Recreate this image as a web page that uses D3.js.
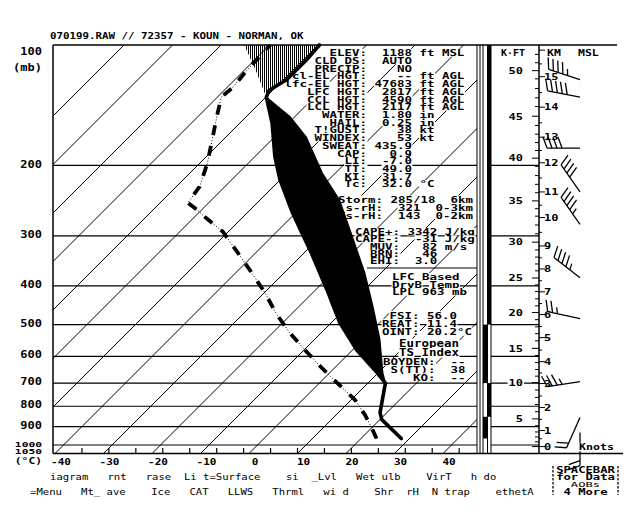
<!DOCTYPE html>
<html><head><meta charset="utf-8">
<script src="https://cdn.jsdelivr.net/npm/d3@7"></script>
<style>
body{margin:0;background:#fff}
svg{display:block;background:#fff}
text{font-family:"DejaVu Sans Mono","Liberation Mono",monospace;fill:#000;white-space:pre}
</style>
</head><body>
<svg id="c" width="627" height="525"></svg>
<script>
// ---------------- DATA ----------------
const titleText = "070199.RAW // 72357 - KOUN - NORMAN, OK";
const isotherms = [-110,-100,-90,-80,-70,-60,-50,-40,-30,-20,-10,0,10,20,30,40];
const pressureLines = [200,300,400,500,600,700,800,900,1000];
const pressureLabels = [100,200,300,400,500,600,700,800,900];
const lowPressureLabels = [1000,1050];
const tempLabels = [-40,-30,-20,-10,0,10,20,30,40];
const fahrenheitTicks = [-30,-20,-10,0,10,20,30,40,50,60,70,80,90,100,110];

// environmental temperature (°C) vs pressure (mb)
const envP = [963,864,830,757,700,659,578,495,409,331,263,217,190,157,135,130,122,109,100];
const envT = [28.3,20.4,18.6,15.9,13.6,9.7,0.8,-8.2,-17.7,-28.5,-40.6,-50.1,-55.9,-63.3,-69.9,-70.7,-69.3,-69.3,-69.7];
// lifted parcel
const parcelP = [700,659,545,451,371,302,244,209,170,151,135,115.5,100];
const parcelT = [13.6,10.9,3.5,-4.7,-13.4,-23.3,-33.6,-42.7,-53.4,-61.0,-69.9,-77.7,-85.2];
const elP = 135;
// dewpoint
const dewP = [963,889,840,770,700,641,578,524,472,416,371,335,293,269,258,248,226,197,173,151,135,128,117,103,100];
const dewT = [23.2,19.0,15.9,10.7,3.7,-2.7,-9.9,-16.5,-22.9,-29.9,-36.7,-42.9,-51.1,-57.9,-61.0,-64.3,-65.2,-68.5,-72.2,-76.1,-79.2,-78.8,-79.4,-79.8,-79.8];

// height scale (km MSL -> pressure)
const kmLevels = [0,1,2,3,4,5,6,7,8,9,10,11,12,13,14,15,16];
const kmPressure = [1009,920,806,702,619,539,472,414,363,318,270,233,197,170,143,120,103];
const kmLabels = [0,1,2,3,4,5,6,7,8,9,10,11,12,13,14,15];
const kftLabels = [5,10,15,20,25,30,35,40,45,50];

// layer indicator column segments
const layerTop = [100,500,700,850];
const layerBot = [500,700,850,963];
const layerCol = ["B","A","B","A"];

// winds
const windP = [122,135,181,233,281,382,483,694,854,931];
const windDir = [288,281,270,325,325,308,282,261,204,180];
const windSpd = [45,50,40,40,45,45,25,35,20,20];

// text panel
const statLabels = ["ELEV:","CLD DS:","PRECIP:","cl-EL HGT:","lfc-EL HGT:","LFC HGT:","CCL HGT:","LCL HGT:","WATER:","HAIL:","T!GUST:","WINDEX:","SWEAT:","CAP:","LI:","TT:","KI:","Tc:"];
const statValues = ["1188","AUTO","NO","--","47683","2817","4590","2117","1.80","0.25","38","53","435.9","0.9","-7.0","49.0","31.7","32.0"];
const statUnits = ["ft","","","ft","ft","ft","ft","ft","in","in","kt","kt","","","","","","°C"];
const statUnits2 = ["MSL","","","AGL","AGL","AGL","AGL","AGL","","","","","","","","","",""];
const stormLines = ["Storm: 285/18  6km"," s-rH:  321  0-3km"," s-rH:  143  0-2km"];
const capeLines = ["CAPE+: 3342 J/kg","CAPE-:  -31 J/kg","  MUV:   82 m/s","  BRN:   46","  EHI:  3.0"];
const lfcLines = ["LFC Based","DryB Temp","LPL 963 mb"];
const fsiLines = [" FSI: 56.0","REAT: 11.4","OINT: 20.2°C"];
const euroLines = ["European","TS Index"];
const boydenLines = ["BOYDEN:  --"," S(TT):  38","    KO:  --"];
const menuLine1 = "iagram   rnt   rase  Li t=Surface    si  _Lvl   Wet ulb    VirT   h do";
const menuLine2 = "=Menu   Mt_ ave    Ice   CAT   LLWS   Thrml   wi d    Shr  rH  N trap    ethetA";
const boxLines = ["SPACEBAR","for Data","AOBs","4 More"];

// ---------------- LAYOUT ----------------
const svg = d3.select("#c");
const TOP=45, BOT=453.5, LEFT=53, ISO_R=477, AXX=539;
const y = d3.scaleLog().domain([100,1050]).range([TOP,BOT]);
const xT = d3.scaleLinear().domain([-40,40]).range([55,443]);
const sx = (T,p) => xT(T) + (BOT - y(p));
const hP = d3.scaleLinear().domain(kmLevels).range(kmPressure);
const MONO = 0.602;

function txt(parent, x, yc, str, o={}) {
  const size=o.size||12, sy=o.sy||0.8, anchor=o.anchor||"start";
  const g=parent.append("g").attr("transform",`translate(${x},${yc}) scale(1,${sy})`);
  const t=g.append("text").attr("x",0).attr("y",size*0.729/2)
    .attr("text-anchor",anchor).attr("font-size",size)
    .attr("font-weight",o.weight||"bold").text(str);
  if(o.bg){
    const b=t.node().getBBox();
    g.insert("rect","text").attr("x",b.x-1).attr("y",-size*0.729/2-1.5)
      .attr("width",b.width+2).attr("height",size*0.729+3).attr("fill","#fff");
  }
  return g;
}
// grid text block with white cells behind non-space runs
function block(parent, lines, x0, y0, dy, pitch, sy) {
  const size = pitch/MONO;
  lines.forEach((s,i)=>{
    const yc=y0+i*dy;
    const re=/\S+/g; let m;
    while((m=re.exec(s))!==null){
      parent.append("rect").attr("x",x0+m.index*pitch-0.5).attr("y",yc-dy/2)
        .attr("width",m[0].length*pitch+1).attr("height",dy).attr("fill","#fff");
    }
    txt(parent,x0,yc,s,{size:size,sy:sy});
  });
}

// ---------------- GRID ----------------
const defs = svg.append("defs");
defs.append("clipPath").attr("id","plotclip").append("rect")
  .attr("x",LEFT).attr("y",TOP).attr("width",ISO_R-LEFT).attr("height",BOT-TOP);
const hatch = defs.append("pattern").attr("id","hatch").attr("patternUnits","userSpaceOnUse")
  .attr("width",2).attr("height",4);
hatch.append("rect").attr("x",0).attr("y",0).attr("width",1).attr("height",4).attr("fill","#000");

const grid = svg.append("g");
const line = d3.line().x(d=>sx(d[1],d[0])).y(d=>y(d[0]));
grid.append("g").attr("clip-path","url(#plotclip)").selectAll("path").data(isotherms).join("path")
  .attr("d",T=>line([[1050,T],[100,T]])).attr("stroke","#000").attr("stroke-width",1).attr("fill","none");

pressureLines.forEach(p=>{
  grid.append("line").attr("x1",LEFT).attr("x2",ISO_R).attr("y1",y(p)).attr("y2",y(p)).attr("stroke","#000").attr("stroke-width",1.2);
  grid.append("line").attr("x1",491).attr("x2",AXX).attr("y1",y(p)).attr("y2",y(p)).attr("stroke","#000").attr("stroke-width",1.2);
});
// borders
grid.append("line").attr("x1",LEFT).attr("x2",617).attr("y1",TOP).attr("y2",TOP).attr("stroke","#000").attr("stroke-width",1.5);
grid.append("line").attr("x1",LEFT).attr("x2",623).attr("y1",BOT).attr("y2",BOT).attr("stroke","#000").attr("stroke-width",1.5);
grid.append("line").attr("x1",LEFT).attr("x2",LEFT).attr("y1",TOP).attr("y2",BOT).attr("stroke","#000").attr("stroke-width",1.5);
[477,480,483,487.5,491].forEach(x=>{
  grid.append("line").attr("x1",x).attr("x2",x).attr("y1",TOP).attr("y2",BOT).attr("stroke","#000").attr("stroke-width",1);
});
layerTop.forEach((pt,i)=>{
  const x0 = layerCol[i]==="A" ? 483 : 487.5;
  grid.append("rect").attr("x",x0).attr("width",layerCol[i]==="A"?4.5:3.5)
    .attr("y",y(pt)).attr("height",y(layerBot[i])-y(pt)).attr("fill","#000");
});
// °F ticks on bottom axis
fahrenheitTicks.forEach(F=>{
  const x = xT((F-32)*5/9);
  grid.append("line").attr("x1",x).attr("x2",x).attr("y1",BOT-5.5).attr("y2",BOT).attr("stroke","#000").attr("stroke-width",1.2);
});

// ---------------- TEXT PANEL ----------------
const panel = svg.append("g");
const P=7.5;
const statLines = statLabels.map((l,i)=>{
  let s = l.padStart(11," ") + " " + statValues[i].padStart(5," ");
  if(statUnits[i]) s += " " + statUnits[i];
  if(statUnits2[i]) s += " " + statUnits2[i];
  return s;
});
block(panel, statLines, 284.5, 52.7, 7.72, P, 0.77);
block(panel, stormLines, 338, 199.5, 7.8, P, 0.77);
block(panel, capeLines, 355, 231.8, 7.2, P, 0.74);
panel.append("line").attr("x1",367).attr("x2",477).attr("y1",268).attr("y2",268).attr("stroke","#000").attr("stroke-width",1.2);
block(panel, lfcLines, 392, 276.7, 7.6, P, 0.77);
block(panel, fsiLines, 382, 315, 8.3, P, 0.77);
block(panel, euroLines, 399, 343.3, 9.5, P, 0.8);
block(panel, boydenLines, 383, 361.7, 7.8, P, 0.77);

// ---------------- SOUNDING ----------------
const snd = svg.append("g");
const pt = (P,T)=>[sx(T,P),y(P)];
// hatched negative area above EL
const envAbove = envP.map((p,i)=>[p,envT[i]]).filter(d=>d[0]<=elP);
const parAbove = parcelP.map((p,i)=>[p,parcelT[i]]).filter(d=>d[0]<=elP);
const hatchPoly = parAbove.map(d=>pt(d[0],d[1])).concat(envAbove.slice().reverse().map(d=>pt(d[0],d[1])));
snd.append("path").attr("d","M"+hatchPoly.join("L")+"Z").attr("fill","url(#hatch)").attr("stroke","none");
// black positive area
const envCape = envP.map((p,i)=>[p,envT[i]]).filter(d=>d[0]<=700 && d[0]>=elP);
const parCape = parcelP.map((p,i)=>[p,parcelT[i]]).filter(d=>d[0]>=elP);
const capePoly = envCape.map(d=>pt(d[0],d[1])).concat(parCape.slice().reverse().map(d=>pt(d[0],d[1])));
snd.append("path").attr("d","M"+capePoly.join("L")+"Z").attr("fill","#000").attr("stroke","#000").attr("stroke-width",1.2);
// environmental temperature
snd.append("path").attr("d",line(envP.map((p,i)=>[p,envT[i]]))).attr("fill","none")
  .attr("stroke","#000").attr("stroke-width",3.6).attr("stroke-linejoin","round").attr("stroke-linecap","round");
// dewpoint: thin dotted + thick dashes
const dewPath = line(dewP.map((p,i)=>[p,dewT[i]]));
snd.append("path").attr("d",dewPath).attr("fill","none").attr("stroke","#000").attr("stroke-width",1).attr("stroke-dasharray","1,2");
snd.append("path").attr("d",dewPath).attr("fill","none").attr("stroke","#000").attr("stroke-width",3.8).attr("stroke-dasharray","10,11");

// ---------------- HEIGHT AXIS ----------------
const hax = svg.append("g");
hax.append("line").attr("x1",AXX).attr("x2",AXX).attr("y1",TOP).attr("y2",BOT).attr("stroke","#000").attr("stroke-width",1.5);
for(let k=0;k<=52;k++){
  const yy = y(hP(k*0.3048));
  if(yy<TOP) continue;
  const len = k%5===0 ? 7 : 4;
  hax.append("line").attr("x1",AXX-len).attr("x2",AXX).attr("y1",yy).attr("y2",yy).attr("stroke","#000").attr("stroke-width",1);
}
for(let h=0;h<=16;h+=0.5){
  const yy=y(hP(h)); if(yy<TOP) continue;
  const len = h%1===0 ? 6 : 3;
  hax.append("line").attr("x1",AXX).attr("x2",AXX+len).attr("y1",yy).attr("y2",yy).attr("stroke","#000").attr("stroke-width",1);
}
kftLabels.forEach(k=>{
  txt(hax, 523, y(hP(k*0.3048)), String(k), {size:12, sy:0.75, anchor:"end", bg:true});
});
kmLabels.forEach(k=>{
  txt(hax, 544, y(hP(k)), String(k), {size:12, sy:0.75});
});
txt(hax, 501, 53, "K·FT", {size:10, sy:0.8});
txt(hax, 547, 53, "KM", {size:11.5, sy:0.8});
txt(hax, 578, 53, "MSL", {size:11.5, sy:0.8});

// ---------------- WIND BARBS ----------------
const wb = svg.append("g").attr("stroke","#000").attr("stroke-width",1.3).attr("fill","none");
const L=33;
windP.forEach((p,i)=>{
  const d=windDir[i]*Math.PI/180, x0=580, y0=y(p);
  const ux=Math.sin(d), uy=-Math.cos(d);
  const ex=x0+L*ux, ey=y0+L*uy;
  wb.append("line").attr("x1",x0).attr("y1",y0).attr("x2",ex).attr("y2",ey);
  const px=-uy, py=ux;
  const bx=0.34*ux+0.94*px, by=0.34*uy+0.94*py;
  let s=windSpd[i], k=0;
  while(s>=10){
    const b0x=ex-k*5*ux, b0y=ey-k*5*uy;
    wb.append("line").attr("x1",b0x).attr("y1",b0y).attr("x2",b0x+12*bx).attr("y2",b0y+12*by);
    s-=10;k++;
  }
  if(s>=5){
    const b0x=ex-k*5*ux, b0y=ey-k*5*uy;
    wb.append("line").attr("x1",b0x).attr("y1",b0y).attr("x2",b0x+6.5*bx).attr("y2",b0y+6.5*by);
  }
});
txt(svg, 579, 447, "Knots", {size:11.6, sy:0.75, bg:true});

// ---------------- AXIS LABELS ----------------
const lab = svg.append("g");
pressureLabels.forEach(p=>{
  const yy = p===100 ? 51.5 : y(p)-1.5;
  txt(lab, 42, yy, String(p), {size:12, sy:0.85, anchor:"end"});
});
txt(lab, 42, 67, "(mb)", {size:12, sy:0.8, anchor:"end"});
lowPressureLabels.forEach((p,i)=>{
  txt(lab, 42, i===0 ? 444.5 : 452, String(p), {size:11.3, sy:0.6, anchor:"end"});
});
txt(lab, 42, 461.5, "(°C)", {size:11.3, sy:0.7, anchor:"end"});
tempLabels.forEach(T=>{
  txt(lab, xT(T)+6, 462, String(T), {size:11, sy:0.78, anchor:"middle"});
});
txt(lab, 50, 36, titleText, {size:10.8, sy:0.85});

// ---------------- MENU ----------------
txt(lab, 50, 477, menuLine1, {size:6.38/MONO, sy:0.85, weight:"normal"});
txt(lab, 30, 492, menuLine2, {size:6.38/MONO, sy:0.85, weight:"normal"});
[553,618].forEach(x=>{
  lab.append("line").attr("x1",x).attr("x2",x).attr("y1",466).attr("y2",495)
    .attr("stroke","#000").attr("stroke-width",1.3).attr("stroke-dasharray","2.5,1.5");
});
const boxY=[470,477,484,491.5], boxSy=[0.7,0.7,0.6,0.72];
boxLines.forEach((s,i)=>{
  txt(lab, 585.5, boxY[i], s, {size:12.2, sy:boxSy[i], anchor:"middle", weight:i===2?"normal":"bold"});
});
</script>
</body></html>
